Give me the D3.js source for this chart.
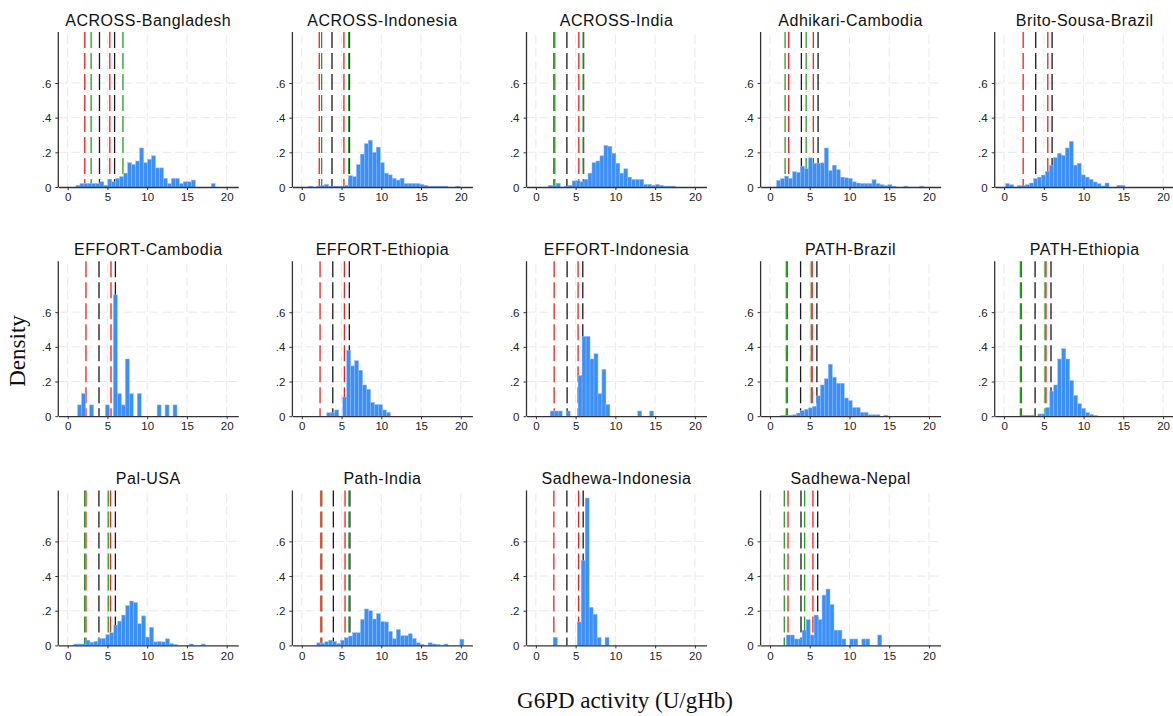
<!DOCTYPE html>
<html>
<head>
<meta charset="utf-8">
<script src="https://cdn.jsdelivr.net/npm/d3@7"></script>
<style>
  body { margin: 0; background: #fff; }
  .title { font-family: "Liberation Sans", Arial, sans-serif; font-size: 16px; fill: #111; letter-spacing: 0.5px; }
  .tick text { font-family: "Liberation Sans", Arial, sans-serif; font-size: 11.5px; fill: #222; }
  .axlab { font-family: "Liberation Serif", "Times New Roman", serif; font-size: 23px; fill: #111; }
</style>
</head>
<body>
<svg id="chart" width="1173" height="716"></svg>
<script>
// panels, in reading order
const panelNames = [
  'ACROSS-Bangladesh', 'ACROSS-Indonesia', 'ACROSS-India', 'Adhikari-Cambodia', 'Brito-Sousa-Brazil',
  'EFFORT-Cambodia', 'EFFORT-Ethiopia', 'EFFORT-Indonesia', 'PATH-Brazil', 'PATH-Ethiopia',
  'Pal-USA', 'Path-India', 'Sadhewa-Indonesia', 'Sadhewa-Nepal'
];

// left edge of first bin (bins are 0.5 U/gHb wide)
const binWidth = 0.5;
const binStart = [1.05, 0.87, 1.56, 0.84, 0.2, 1.25, 3.15, 1.81, 1.34, 2.25, 0.8, 1.89, 2.2, 2.05];

// density per bin
const densities = [
  [0.01, 0.02, 0.02, 0.02, 0.02, 0.02, 0.03, 0.01, 0.045, 0.03, 0.05, 0.06, 0.08, 0.14, 0.13, 0.15, 0.225, 0.14, 0.16, 0.18, 0.11, 0.11, 0.05, 0.02, 0.05, 0.05, 0.02, 0.03, 0.03, 0.04, 0, 0, 0, 0, 0.02],
  [0.005, 0, 0.005, 0.01, 0.015, 0.005, 0.005, 0.005, 0.005, 0.01, 0.065, 0.06, 0.13, 0.19, 0.25, 0.27, 0.2, 0.23, 0.14, 0.08, 0.07, 0.05, 0.04, 0.05, 0.02, 0.02, 0.02, 0.02, 0.015, 0.01, 0.005, 0.005, 0.005, 0.005, 0.005, 0, 0, 0.005],
  [0.01, 0.01, 0.022, 0, 0.005, 0.01, 0.035, 0.037, 0.03, 0.045, 0.08, 0.14, 0.15, 0.18, 0.24, 0.235, 0.195, 0.137, 0.08, 0.105, 0.057, 0.044, 0.044, 0.044, 0.015, 0.015, 0.01, 0.015, 0.01, 0.005, 0.005, 0.005],
  [0.038, 0.048, 0.063, 0.05, 0.088, 0.085, 0.12, 0.105, 0.168, 0.137, 0.137, 0.139, 0.225, 0.095, 0.126, 0.1, 0.057, 0.053, 0.05, 0.03, 0.023, 0.02, 0.02, 0.02, 0.042, 0.02, 0.013, 0.008, 0.013, 0.004, 0, 0, 0.005, 0, 0, 0, 0.005],
  [0.02, 0.013, 0, 0.008, 0.008, 0.013, 0.023, 0.048, 0.057, 0.069, 0.09, 0.124, 0.17, 0.194, 0.183, 0.225, 0.263, 0.126, 0.137, 0.07, 0.057, 0.044, 0.029, 0.019, 0.006, 0.023, 0, 0, 0.01, 0.01],
  [0.065, 0.13, 0, 0.065, 0, 0, 0, 0.065, 0, 0.7, 0.13, 0.065, 0.33, 0.13, 0, 0.13, 0, 0, 0, 0, 0.065, 0, 0.065, 0, 0.065],
  [0.02, 0.02, 0.036, 0, 0.11, 0.38, 0.29, 0.32, 0.265, 0.18, 0.155, 0.08, 0.067, 0.067, 0.036, 0.022],
  [0.03, 0.03, 0.03, 0, 0.03, 0, 0, 0.235, 0.46, 0.46, 0.33, 0.36, 0.13, 0.27, 0.067, 0, 0, 0, 0, 0, 0, 0, 0.03, 0, 0, 0.03],
  [0.005, 0.005, 0.006, 0.008, 0.018, 0.032, 0.04, 0.048, 0.057, 0.117, 0.18, 0.216, 0.3, 0.225, 0.19, 0.19, 0.105, 0.09, 0.05, 0.05, 0.022, 0.022, 0.008, 0.008, 0.008, 0, 0.006],
  [0.006, 0.006, 0.006, 0, 0.013, 0.013, 0.05, 0.145, 0.18, 0.33, 0.39, 0.33, 0.205, 0.12, 0.072, 0.045, 0.02, 0.01, 0.005],
  [0.008, 0.008, 0.008, 0.03, 0.018, 0.023, 0.04, 0.04, 0.062, 0.073, 0.117, 0.14, 0.175, 0.23, 0.256, 0.248, 0.125, 0.17, 0.048, 0.104, 0.02, 0.022, 0.02, 0.038, 0.01, 0.005, 0, 0, 0, 0.008, 0, 0, 0.008],
  [0.015, 0.012, 0.021, 0.03, 0.022, 0.01, 0.03, 0.044, 0.054, 0.073, 0.073, 0.15, 0.21, 0.2, 0.152, 0.183, 0.138, 0.135, 0.081, 0.038, 0.092, 0.056, 0.056, 0.067, 0.04, 0.015, 0.006, 0, 0.015, 0.008, 0.006, 0, 0.008, 0, 0, 0, 0.036],
  [0.046, 0, 0, 0, 0, 0, 0.135, 0.49, 0.85, 0.22, 0.18, 0.046, 0, 0.046],
  [0.06, 0.06, 0.037, 0.037, 0.088, 0.148, 0.06, 0.175, 0.148, 0.29, 0.325, 0.236, 0.088, 0.088, 0.037, 0, 0.037, 0.037, 0, 0.037, 0.037, 0, 0, 0.06]
];

// dashed cut-offs (U/gHb); null = not drawn
const cutBlack = [[4.0, 5.9], [3.8, 6.0], [3.9, 6.0], [3.95, 6.05], [3.98, 6.04], [3.94, 6.0], [3.9, 5.98],
  [3.93, 5.9], [3.85, 5.9], [3.9, 5.9], [3.93, 6.0], [3.97, 6.05], [3.9, 5.95], [3.9, 6.0]];
const cutRed = [[2.15, 5.3], [2.2, 5.3], [2.25, 5.4], [2.35, 5.45], [2.4, 5.5], [2.3, 5.45], [2.3, 5.36],
  [2.3, 5.31], [2.18, 5.31], [2.18, 5.27], [2.3, 5.38], [2.4, 5.44], [2.26, 5.37], [2.27, 5.4]];
const cutGreen = [[2.95, 6.95], [2.5, 5.9], [2.38, 5.95], [1.9, 4.55], null, null, null,
  null, [2.05, 5.19], [2.05, 5.15], [2.13, 5.1], [2.52, 5.93], null, [1.8, 4.36]];

const xTicks = [0, 5, 10, 15, 20];
const yTicks = [0, 0.2, 0.4, 0.6];
const yTickLabels = ['0', '.2', '.4', '.6'];

const svg = d3.select('#chart');
svg.append('rect').attr('width', 1173).attr('height', 716).attr('fill', '#fff');

const ncol = 5;
const plotW = 180, plotH = 155;
const colX = i => 58.3 + 234.1 * i;
const rowBase = j => 187 + 229.2 * j;

panelNames.forEach((name, p) => {
  const c = p % ncol, r = Math.floor(p / ncol);
  const x0 = colX(c), yb = rowBase(r);
  const x = d3.scaleLinear().domain([-1.18, 21.46]).range([x0, x0 + plotW]);
  const y = d3.scaleLinear().domain([0, 0.894]).range([yb, yb - plotH]);
  const g = svg.append('g');

  // grid
  g.selectAll('line.vg').data(xTicks).enter().append('line')
    .attr('x1', d => x(d)).attr('x2', d => x(d)).attr('y1', y(0)).attr('y2', yb - plotH)
    .attr('stroke', '#e9e9e9').attr('stroke-width', 1).attr('stroke-dasharray', '9,4');
  g.selectAll('line.hg').data(yTicks.slice(1)).enter().append('line')
    .attr('x1', x0).attr('x2', x0 + plotW).attr('y1', d => y(d)).attr('y2', d => y(d))
    .attr('stroke', '#e9e9e9').attr('stroke-width', 1).attr('stroke-dasharray', '9,4');

  // cut-off lines: black, then red, then green on top (bars go over them)
  const cuts = [];
  cutBlack[p].forEach(v => cuts.push({ v, col: '#1a1a1a' }));
  cutRed[p].forEach(v => cuts.push({ v, col: '#ff1a1a' }));
  if (cutGreen[p]) cutGreen[p].forEach(v => cuts.push({ v, col: '#22a022' }));
  g.selectAll('line.cut').data(cuts).enter().append('line')
    .attr('x1', d => x(d.v)).attr('x2', d => x(d.v))
    .attr('y1', yb - plotH).attr('y2', yb)
    .attr('stroke', d => d.col).attr('stroke-width', 1.3).attr('stroke-dasharray', '16,5');

  // bars
  const bins = densities[p].map((v, i) => ({ x: binStart[p] + i * binWidth, v })).filter(d => d.v > 0);
  g.selectAll('rect.bar').data(bins).enter().append('rect')
    .attr('x', d => x(d.x)).attr('width', x(binWidth) - x(0))
    .attr('y', d => y(d.v)).attr('height', d => y(0) - y(d.v))
    .attr('fill', '#3d8ff8').attr('stroke', '#8dbcff').attr('stroke-width', 0.5);

  // axes
  const ax = g.append('g').attr('transform', `translate(0,${yb})`)
    .call(d3.axisBottom(x).tickValues(xTicks).tickSize(3).tickSizeOuter(0).tickPadding(3));
  const ay = g.append('g').attr('transform', `translate(${x0},0)`)
    .call(d3.axisLeft(y).tickValues(yTicks).tickFormat((d, i) => yTickLabels[i]).tickSize(3).tickSizeOuter(0).tickPadding(4));
  [ax, ay].forEach(a => {
    a.select('.domain').attr('stroke', '#333').attr('stroke-width', 1.3);
    a.selectAll('.tick line').attr('stroke', '#333');
  });
  ay.selectAll('.tick text').attr('dy', '0.35em');
  ay.select('.domain').attr('d', `M0,${yb}V${yb - plotH}`);

  // title
  g.append('text').attr('class', 'title')
    .attr('x', x0 + plotW / 2).attr('y', yb - plotH - 6)
    .attr('text-anchor', 'middle').text(name);
});

svg.append('text').attr('class', 'axlab')
  .attr('transform', 'translate(25,351) rotate(-90)')
  .attr('text-anchor', 'middle').text('Density');
svg.append('text').attr('class', 'axlab')
  .attr('x', 625).attr('y', 708)
  .attr('text-anchor', 'middle').text('G6PD activity (U/gHb)');
</script>
</body>
</html>
